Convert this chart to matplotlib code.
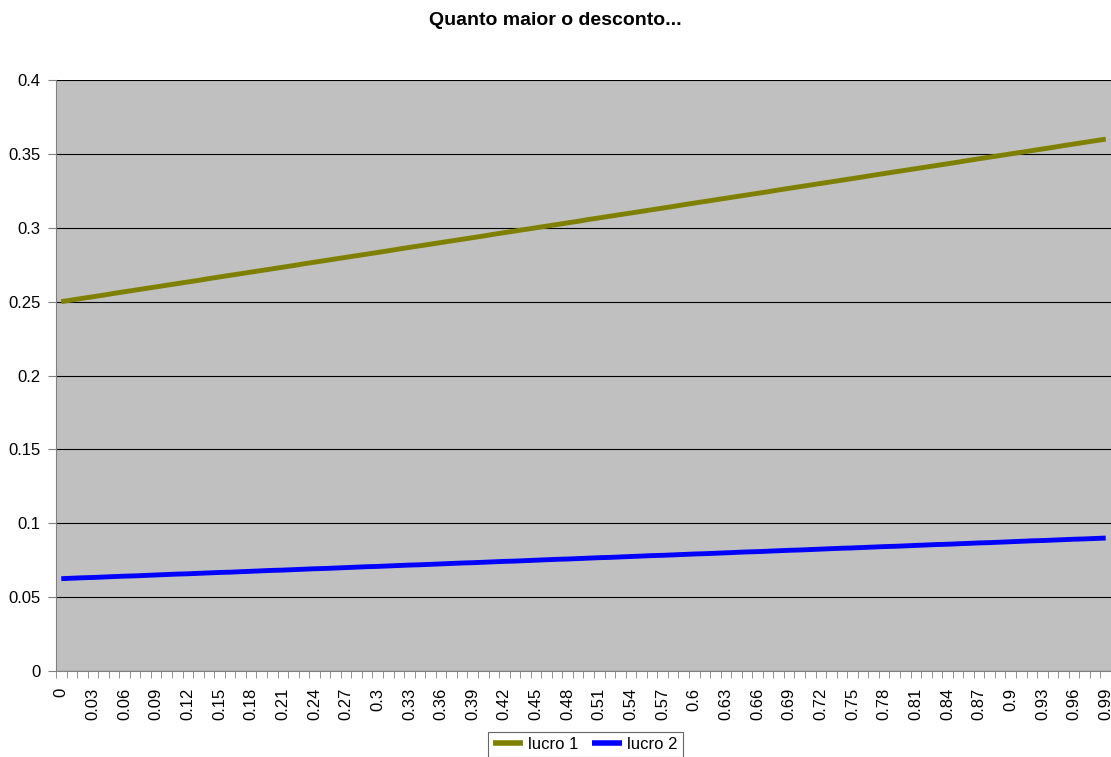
import numpy as np
import matplotlib.pyplot as plt

plt.rcParams['font.family'] = ['Liberation Sans', 'DejaVu Sans']

# desconto de 0 a 0.99 (categorias)
desconto = ['0', '0.01', '0.02', '0.03', '0.04', '0.05', '0.06', '0.07', '0.08', '0.09',
            '0.1', '0.11', '0.12', '0.13', '0.14', '0.15', '0.16', '0.17', '0.18', '0.19',
            '0.2', '0.21', '0.22', '0.23', '0.24', '0.25', '0.26', '0.27', '0.28', '0.29',
            '0.3', '0.31', '0.32', '0.33', '0.34', '0.35', '0.36', '0.37', '0.38', '0.39',
            '0.4', '0.41', '0.42', '0.43', '0.44', '0.45', '0.46', '0.47', '0.48', '0.49',
            '0.5', '0.51', '0.52', '0.53', '0.54', '0.55', '0.56', '0.57', '0.58', '0.59',
            '0.6', '0.61', '0.62', '0.63', '0.64', '0.65', '0.66', '0.67', '0.68', '0.69',
            '0.7', '0.71', '0.72', '0.73', '0.74', '0.75', '0.76', '0.77', '0.78', '0.79',
            '0.8', '0.81', '0.82', '0.83', '0.84', '0.85', '0.86', '0.87', '0.88', '0.89',
            '0.9', '0.91', '0.92', '0.93', '0.94', '0.95', '0.96', '0.97', '0.98', '0.99']

lucro1 = [0.2500, 0.2511, 0.2522, 0.2533, 0.2544, 0.2556, 0.2567, 0.2578, 0.2589,
          0.2600, 0.2611, 0.2622, 0.2633, 0.2644, 0.2656, 0.2667, 0.2678, 0.2689,
          0.2700, 0.2711, 0.2722, 0.2733, 0.2744, 0.2756, 0.2767, 0.2778, 0.2789,
          0.2800, 0.2811, 0.2822, 0.2833, 0.2844, 0.2856, 0.2867, 0.2878, 0.2889,
          0.2900, 0.2911, 0.2922, 0.2933, 0.2944, 0.2956, 0.2967, 0.2978, 0.2989,
          0.3000, 0.3011, 0.3022, 0.3033, 0.3044, 0.3056, 0.3067, 0.3078, 0.3089,
          0.3100, 0.3111, 0.3122, 0.3133, 0.3144, 0.3156, 0.3167, 0.3178, 0.3189,
          0.3200, 0.3211, 0.3222, 0.3233, 0.3244, 0.3256, 0.3267, 0.3278, 0.3289,
          0.3300, 0.3311, 0.3322, 0.3333, 0.3344, 0.3356, 0.3367, 0.3378, 0.3389,
          0.3400, 0.3411, 0.3422, 0.3433, 0.3444, 0.3456, 0.3467, 0.3478, 0.3489,
          0.3500, 0.3511, 0.3522, 0.3533, 0.3544, 0.3556, 0.3567, 0.3578, 0.3589,
          0.3600]

lucro2 = [0.0625, 0.0628, 0.0631, 0.0633, 0.0636, 0.0639, 0.0642, 0.0644, 0.0647,
          0.0650, 0.0653, 0.0656, 0.0658, 0.0661, 0.0664, 0.0667, 0.0669, 0.0672,
          0.0675, 0.0678, 0.0681, 0.0683, 0.0686, 0.0689, 0.0692, 0.0694, 0.0697,
          0.0700, 0.0703, 0.0706, 0.0708, 0.0711, 0.0714, 0.0717, 0.0719, 0.0722,
          0.0725, 0.0728, 0.0731, 0.0733, 0.0736, 0.0739, 0.0742, 0.0744, 0.0747,
          0.0750, 0.0753, 0.0756, 0.0758, 0.0761, 0.0764, 0.0767, 0.0769, 0.0772,
          0.0775, 0.0778, 0.0781, 0.0783, 0.0786, 0.0789, 0.0792, 0.0794, 0.0797,
          0.0800, 0.0803, 0.0806, 0.0808, 0.0811, 0.0814, 0.0817, 0.0819, 0.0822,
          0.0825, 0.0828, 0.0831, 0.0833, 0.0836, 0.0839, 0.0842, 0.0844, 0.0847,
          0.0850, 0.0853, 0.0856, 0.0858, 0.0861, 0.0864, 0.0867, 0.0869, 0.0872,
          0.0875, 0.0878, 0.0881, 0.0883, 0.0886, 0.0889, 0.0892, 0.0894, 0.0897,
          0.0900]

x = np.arange(len(desconto))

fig = plt.figure(figsize=(11.11, 7.57), dpi=100)
ax = fig.add_axes([0.0504, 0.1136, 0.9496, 0.7807])
ax.set_facecolor('#C0C0C0')

ax.plot(x, lucro1, color='#808000', lw=3.5, label='lucro 1', solid_capstyle='butt')
ax.plot(x, lucro2, color='#0000FF', lw=3.5, label='lucro 2', solid_capstyle='butt')

ax.set_xlim(-0.5, len(desconto) - 0.5)
ax.set_ylim(0, 0.4)
ax.set_yticks(np.arange(0, 0.401, 0.05))
ax.set_yticklabels(['0', '0.05', '0.1', '0.15', '0.2', '0.25', '0.3', '0.35', '0.4'], fontsize=12)
ax.yaxis.grid(True, color='black', lw=0.8)
ax.set_axisbelow(True)

# rotulos a cada 3 categorias, marcas entre categorias
ax.set_xticks(x[::3])
ax.set_xticklabels(desconto[::3], rotation=90, fontsize=12)
ax.tick_params(axis='x', length=0, pad=12)
ax.set_xticks(np.arange(-0.5, len(desconto)), minor=True)
ax.tick_params(axis='x', which='minor', length=5, color='#808080')
ax.tick_params(axis='y', length=6, color='#808080', pad=5)

for s in ['top', 'right']:
    ax.spines[s].set_visible(False)
ax.spines['left'].set_color('#808080')
ax.spines['bottom'].set_color('#808080')

fig.text(0.5, 0.9735, 'Quanto maior o desconto...', fontsize=14, fontweight='bold',
         ha='center', va='center')

leg = fig.legend(loc='upper center', bbox_to_anchor=(0.527, 0.033), ncol=2, frameon=True,
                 fancybox=False, edgecolor='#404040', fontsize=12, handlelength=1.8,
                 handletextpad=0.3, columnspacing=0.8, borderpad=0.3, borderaxespad=0)
leg.get_frame().set_linewidth(0.8)
for h in leg.get_lines():
    h.set_linewidth(4)

fig.savefig('out.png', dpi=100)
